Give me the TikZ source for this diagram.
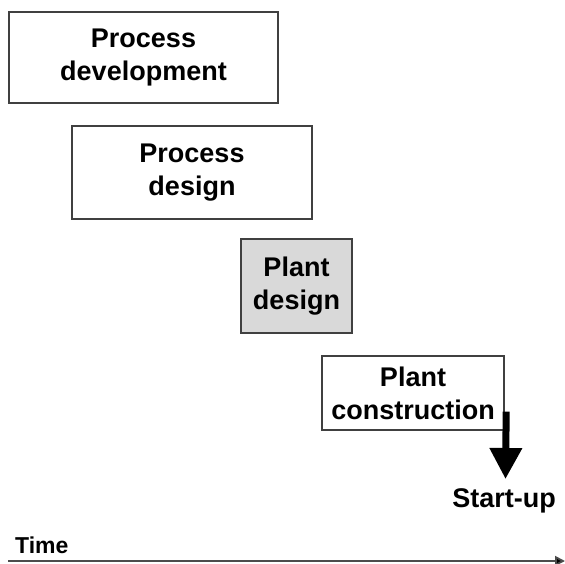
\documentclass[tikz,border=0pt]{standalone}
\usepackage{fontspec}
\setmainfont{Liberation Sans}
\usetikzlibrary{arrows.meta,calc,positioning}

\begin{document}
\begin{tikzpicture}[x=1pt, y=1pt,
  stage/.style={draw=black!75, line width=1.4pt, align=center, inner sep=0pt,
    font=\bfseries\fontsize{27}{33}\selectfont},
  label/.style={font=\bfseries\fontsize{27}{33}\selectfont, inner sep=0pt}]
  \useasboundingbox (0,0) rectangle (565,563);

  % Stages, one below the other, shifted to the right
  \node[stage, minimum width=269pt, minimum height=91pt] (procdev) at (143.5,505.5) {Process\\development};
  \node[stage, minimum width=240pt, minimum height=93pt] (procdes) at (192,390.5) {Process\\design};
  \node[stage, minimum width=111pt, minimum height=94pt, fill=black!15] (plantdes) at (296.5,277) {Plant\\design};
  \node[stage, minimum width=182pt, minimum height=74pt] (plantcon) at (413,170) {Plant\\construction};

  % Start-up
  \node[label, anchor=base] (startup) at (504,56) {Start-up};
  \coordinate (launch) at ($(plantcon.south east)+(1.5,19)$);
  \coordinate (landing) at (505.5,84);
  \draw[line width=7pt, -{Triangle[length=31pt, width=31pt]}] (launch) -- (landing);

  % Time axis
  \node[label, anchor=base west, font=\bfseries\fontsize{23}{28}\selectfont] (time) at (15,10) {Time};
  \coordinate (t0) at (8,2);
  \coordinate (t1) at (565,2);
  \draw[black!70, line width=1.8pt, -{Triangle[length=10pt, width=10pt, fill=black]}] (t0) -- (t1);
\end{tikzpicture}
\end{document}
